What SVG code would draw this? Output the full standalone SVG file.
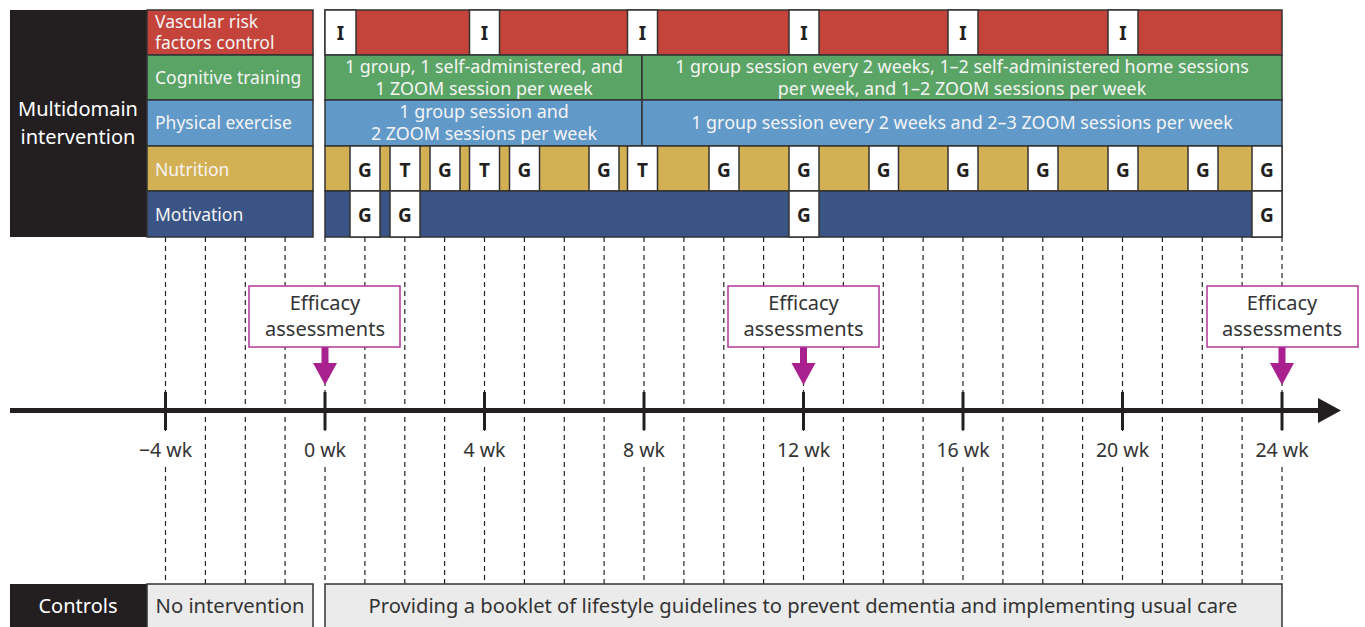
<svg xmlns="http://www.w3.org/2000/svg" width="1365" height="627" viewBox="0 0 1365 627">
<style>
text{font-family:"Noto Sans","Open Sans","DejaVu Sans",sans-serif}
.cell{stroke:#333;stroke-width:1.5}
.red{fill:#c4433a}.green{fill:#5aa465}.blue{fill:#6199c9}.gold{fill:#d4b055}.navy{fill:#3b5486}.blk{fill:#231f20}
.wb{fill:#fff;stroke:#333;stroke-width:1.5}
.lbl{font-size:17.5px;fill:#f4f4f4}
.in{font-size:17.9px;fill:#f4f4f4;text-anchor:middle}
.bx{font-size:19px;font-weight:bold;fill:#231f20;text-anchor:middle}
.dash{stroke:#222;stroke-width:1.2;stroke-dasharray:5 4;fill:none}
.tick{stroke:#231f20;stroke-width:3}
.wk{font-size:19.5px;fill:#333;text-anchor:middle}
.eff{fill:#fff;stroke:#b3369a;stroke-width:1.5}
.efft{font-size:20px;fill:#333;text-anchor:middle}
.arr{fill:#a8218f}
.ctl{font-size:20.2px;fill:#333;text-anchor:middle}
</style>

<g id="gridlines">
<line class="dash" x1="165.5" y1="237" x2="165.5" y2="432"/><line class="dash" x1="165.5" y1="467" x2="165.5" y2="584"/>
<line class="dash" x1="205.4" y1="237" x2="205.4" y2="584"/>
<line class="dash" x1="245.3" y1="237" x2="245.3" y2="584"/>
<line class="dash" x1="285.1" y1="237" x2="285.1" y2="584"/>
<line class="dash" x1="325" y1="237" x2="325" y2="432"/><line class="dash" x1="325" y1="467" x2="325" y2="584"/>
<line class="dash" x1="364.9" y1="237" x2="364.9" y2="584"/>
<line class="dash" x1="404.8" y1="237" x2="404.8" y2="584"/>
<line class="dash" x1="444.6" y1="237" x2="444.6" y2="584"/>
<line class="dash" x1="484.5" y1="237" x2="484.5" y2="432"/><line class="dash" x1="484.5" y1="467" x2="484.5" y2="584"/>
<line class="dash" x1="524.4" y1="237" x2="524.4" y2="584"/>
<line class="dash" x1="564.3" y1="237" x2="564.3" y2="584"/>
<line class="dash" x1="604.1" y1="237" x2="604.1" y2="584"/>
<line class="dash" x1="644" y1="237" x2="644" y2="432"/><line class="dash" x1="644" y1="467" x2="644" y2="584"/>
<line class="dash" x1="683.9" y1="237" x2="683.9" y2="584"/>
<line class="dash" x1="723.8" y1="237" x2="723.8" y2="584"/>
<line class="dash" x1="763.6" y1="237" x2="763.6" y2="584"/>
<line class="dash" x1="803.5" y1="237" x2="803.5" y2="432"/><line class="dash" x1="803.5" y1="467" x2="803.5" y2="584"/>
<line class="dash" x1="843.4" y1="237" x2="843.4" y2="584"/>
<line class="dash" x1="883.3" y1="237" x2="883.3" y2="584"/>
<line class="dash" x1="923.1" y1="237" x2="923.1" y2="584"/>
<line class="dash" x1="963" y1="237" x2="963" y2="432"/><line class="dash" x1="963" y1="467" x2="963" y2="584"/>
<line class="dash" x1="1002.9" y1="237" x2="1002.9" y2="584"/>
<line class="dash" x1="1042.8" y1="237" x2="1042.8" y2="584"/>
<line class="dash" x1="1082.6" y1="237" x2="1082.6" y2="584"/>
<line class="dash" x1="1122.5" y1="237" x2="1122.5" y2="432"/><line class="dash" x1="1122.5" y1="467" x2="1122.5" y2="584"/>
<line class="dash" x1="1162.4" y1="237" x2="1162.4" y2="584"/>
<line class="dash" x1="1202.3" y1="237" x2="1202.3" y2="584"/>
<line class="dash" x1="1242.1" y1="237" x2="1242.1" y2="584"/>
<line class="dash" x1="1282" y1="237" x2="1282" y2="432"/><line class="dash" x1="1282" y1="467" x2="1282" y2="584"/>
</g>

<g id="label-multidomain">
<rect class="blk" x="10" y="10" width="137" height="227"/>
<text x="78" y="116" font-size="20" fill="#fff" text-anchor="middle">Multidomain</text>
<text x="78" y="144" font-size="20" fill="#fff" text-anchor="middle">intervention</text>
</g>

<g id="row-vascular">
<rect class="cell red" x="147" y="10" width="166" height="45"/>
<text class="lbl" x="155" y="27.5">Vascular risk</text>
<text class="lbl" x="155" y="48.5">factors control</text>
<rect class="cell red" x="325" y="10" width="957" height="45"/>
<rect class="wb" x="325" y="10" width="31" height="45"/><text class="bx" x="340.5" y="39.5">I</text>
<rect class="wb" x="469.5" y="10" width="30" height="45"/><text class="bx" x="484.5" y="39.5">I</text>
<rect class="wb" x="627.5" y="10" width="30" height="45"/><text class="bx" x="642.5" y="39.5">I</text>
<rect class="wb" x="789" y="10" width="30" height="45"/><text class="bx" x="804" y="39.5">I</text>
<rect class="wb" x="948" y="10" width="30" height="45"/><text class="bx" x="963" y="39.5">I</text>
<rect class="wb" x="1108" y="10" width="30" height="45"/><text class="bx" x="1123" y="39.5">I</text>
</g>

<g id="row-cognitive">
<rect class="cell green" x="147" y="55" width="166" height="45"/>
<text class="lbl" x="155" y="84">Cognitive training</text>
<rect class="cell green" x="325" y="55" width="317" height="45"/>
<rect class="cell green" x="642" y="55" width="640" height="45"/>
<text class="in" x="484" y="73">1 group, 1 self-administered, and</text>
<text class="in" x="484" y="94.5">1 ZOOM session per week</text>
<text class="in" x="962" y="73">1 group session every 2 weeks, 1–2 self-administered home sessions</text>
<text class="in" x="962" y="94.5">per week, and 1–2 ZOOM sessions per week</text>
</g>

<g id="row-physical">
<rect class="cell blue" x="147" y="100" width="166" height="46"/>
<text class="lbl" x="155" y="129">Physical exercise</text>
<rect class="cell blue" x="325" y="100" width="317" height="46"/>
<rect class="cell blue" x="642" y="100" width="640" height="46"/>
<text class="in" x="484" y="118">1 group session and</text>
<text class="in" x="484" y="139.5">2 ZOOM sessions per week</text>
<text class="in" x="962" y="129">1 group session every 2 weeks and 2–3 ZOOM sessions per week</text>
</g>

<g id="row-nutrition">
<rect class="cell gold" x="147" y="146" width="166" height="45"/>
<text class="lbl" x="155" y="176">Nutrition</text>
<rect class="cell gold" x="325" y="146" width="957" height="45"/>
<rect class="wb" x="350" y="146" width="30" height="45"/><text class="bx" x="365" y="177">G</text>
<rect class="wb" x="390" y="146" width="30" height="45"/><text class="bx" x="405" y="177">T</text>
<rect class="wb" x="430" y="146" width="30" height="45"/><text class="bx" x="445" y="177">G</text>
<rect class="wb" x="469.5" y="146" width="30" height="45"/><text class="bx" x="484.5" y="177">T</text>
<rect class="wb" x="509.5" y="146" width="30" height="45"/><text class="bx" x="524.5" y="177">G</text>
<rect class="wb" x="589" y="146" width="30" height="45"/><text class="bx" x="604" y="177">G</text>
<rect class="wb" x="627.5" y="146" width="30" height="45"/><text class="bx" x="642.5" y="177">T</text>
<rect class="wb" x="709" y="146" width="30" height="45"/><text class="bx" x="724" y="177">G</text>
<rect class="wb" x="789" y="146" width="30" height="45"/><text class="bx" x="804" y="177">G</text>
<rect class="wb" x="869" y="146" width="29.5" height="45"/><text class="bx" x="883.7" y="177">G</text>
<rect class="wb" x="948" y="146" width="30" height="45"/><text class="bx" x="963" y="177">G</text>
<rect class="wb" x="1028" y="146" width="30" height="45"/><text class="bx" x="1043" y="177">G</text>
<rect class="wb" x="1108" y="146" width="30" height="45"/><text class="bx" x="1123" y="177">G</text>
<rect class="wb" x="1188" y="146" width="30" height="45"/><text class="bx" x="1203" y="177">G</text>
<rect class="wb" x="1252" y="146" width="30" height="45"/><text class="bx" x="1267" y="177">G</text>
</g>

<g id="row-motivation">
<rect class="cell navy" x="147" y="191" width="166" height="46"/>
<text class="lbl" x="155" y="221">Motivation</text>
<rect class="cell navy" x="325" y="191" width="957" height="46"/>
<rect class="wb" x="350" y="191" width="30" height="46"/><text class="bx" x="365" y="221.5">G</text>
<rect class="wb" x="390" y="191" width="30" height="46"/><text class="bx" x="405" y="221.5">G</text>
<rect class="wb" x="789" y="191" width="30" height="46"/><text class="bx" x="804" y="221.5">G</text>
<rect class="wb" x="1252" y="191" width="30" height="46"/><text class="bx" x="1267" y="221.5">G</text>
</g>

<g id="connectors">
<line x1="10" y1="410.5" x2="1320" y2="410.5" stroke="#231f20" stroke-width="5"/>
<polygon points="1318,398 1341,410.5 1318,423" fill="#231f20"/>
<line class="tick" x1="165.5" y1="392" x2="165.5" y2="430"/>
<line class="tick" x1="325" y1="392" x2="325" y2="430"/>
<line class="tick" x1="484.5" y1="392" x2="484.5" y2="430"/>
<line class="tick" x1="644" y1="392" x2="644" y2="430"/>
<line class="tick" x1="803.5" y1="392" x2="803.5" y2="430"/>
<line class="tick" x1="963" y1="392" x2="963" y2="430"/>
<line class="tick" x1="1122.5" y1="392" x2="1122.5" y2="430"/>
<line class="tick" x1="1282" y1="392" x2="1282" y2="430"/>
<rect class="arr" x="321.5" y="346" width="7" height="18"/><polygon class="arr" points="313,363 337,363 325,385"/>
<rect class="arr" x="800" y="346" width="7" height="18"/><polygon class="arr" points="791.5,363 815.5,363 803.5,385"/>
<rect class="arr" x="1278.5" y="346" width="7" height="18"/><polygon class="arr" points="1270,363 1294,363 1282,385"/>
</g>

<g id="axis-labels">
<text class="wk" x="165.5" y="457">−4 wk</text>
<text class="wk" x="325" y="457">0 wk</text>
<text class="wk" x="484.5" y="457">4 wk</text>
<text class="wk" x="644" y="457">8 wk</text>
<text class="wk" x="803.5" y="457">12 wk</text>
<text class="wk" x="963" y="457">16 wk</text>
<text class="wk" x="1122.5" y="457">20 wk</text>
<text class="wk" x="1282" y="457">24 wk</text>
</g>

<g id="efficacy-0">
<rect class="eff" x="249" y="286" width="151" height="61"/>
<text class="efft" x="325" y="310">Efficacy</text>
<text class="efft" x="325" y="336">assessments</text>
</g>
<g id="efficacy-12">
<rect class="eff" x="728" y="286" width="151" height="61"/>
<text class="efft" x="803.5" y="310">Efficacy</text>
<text class="efft" x="803.5" y="336">assessments</text>
</g>
<g id="efficacy-24">
<rect class="eff" x="1207" y="286" width="151" height="61"/>
<text class="efft" x="1282" y="310">Efficacy</text>
<text class="efft" x="1282" y="336">assessments</text>
</g>

<g id="controls">
<rect class="blk" x="10" y="584" width="137" height="45"/>
<text x="78" y="613" font-size="20" fill="#fff" text-anchor="middle">Controls</text>
<rect x="147" y="584" width="166" height="45" fill="#ebebeb" stroke="#333" stroke-width="1.5"/>
<text class="ctl" x="230" y="613">No intervention</text>
<rect x="325" y="584" width="957" height="45" fill="#ebebeb" stroke="#333" stroke-width="1.5"/>
<text class="ctl" x="803" y="613">Providing a booklet of lifestyle guidelines to prevent dementia and implementing usual care</text>
</g>
</svg>
